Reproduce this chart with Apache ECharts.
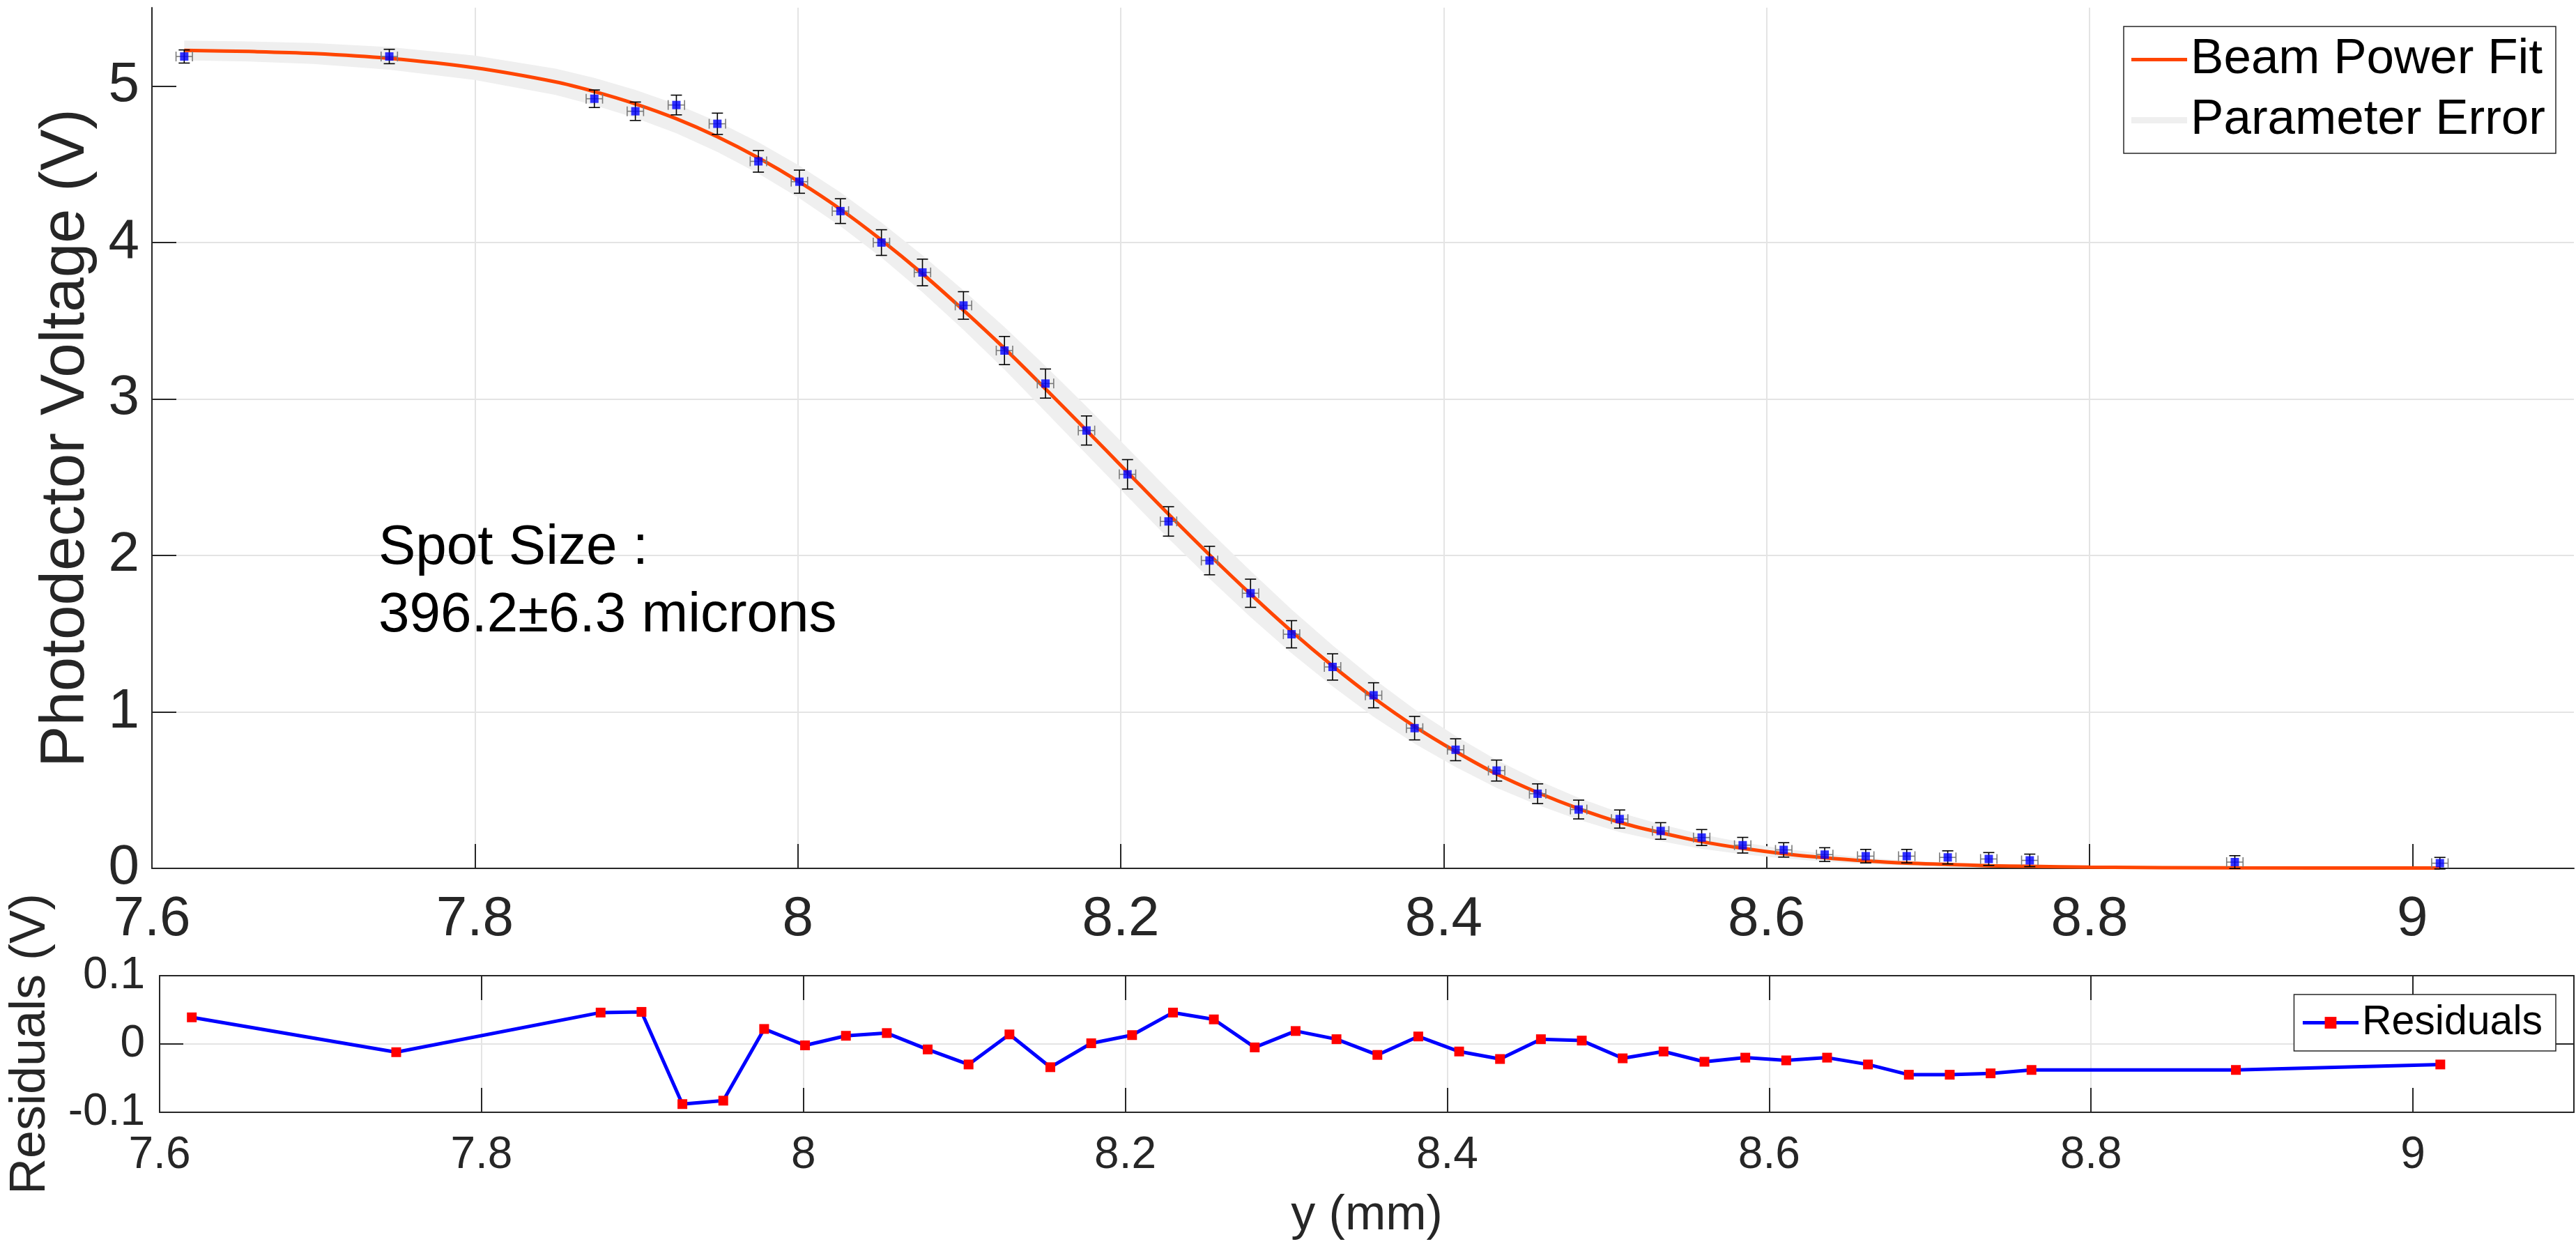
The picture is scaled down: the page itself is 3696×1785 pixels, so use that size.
<!DOCTYPE html>
<html><head><meta charset="utf-8">
<script src="https://cdn.jsdelivr.net/npm/echarts@6/dist/echarts.min.js"></script>
<style>html,body{margin:0;padding:0;background:#fff}#c{width:3696px;height:1785px}</style>
</head><body><div id="c"></div>
<script>
// ---------- data ----------
const posX = [7.62, 7.747, 7.874, 7.8994, 7.9248, 7.9502, 7.9756, 8.001, 8.0264, 8.0518,
  8.0772, 8.1026, 8.128, 8.1534, 8.1788, 8.2042, 8.2296, 8.255, 8.2804, 8.3058,
  8.3312, 8.3566, 8.382, 8.4074, 8.4328, 8.4582, 8.4836, 8.509, 8.5344, 8.5598,
  8.5852, 8.6106, 8.636, 8.6614, 8.6868, 8.7122, 8.7376, 8.763, 8.89, 9.017];
const voltage = [5.188, 5.188, 4.918, 4.838, 4.878, 4.758, 4.518, 4.388, 4.200, 3.999,
  3.808, 3.597, 3.309, 3.098, 2.798, 2.518, 2.217, 1.967, 1.758, 1.496,
  1.287, 1.106, 0.896, 0.758, 0.625, 0.477, 0.376, 0.315, 0.239, 0.197,
  0.148, 0.118, 0.088, 0.078, 0.078, 0.070, 0.060, 0.051, 0.040, 0.033];
const voltageErr = [0.042, 0.046, 0.056, 0.059, 0.063, 0.068, 0.069, 0.074, 0.079, 0.082,
  0.085, 0.088, 0.090, 0.093, 0.093, 0.094, 0.094, 0.091, 0.090, 0.087,
  0.084, 0.080, 0.075, 0.070, 0.067, 0.063, 0.060, 0.058, 0.053, 0.051,
  0.050, 0.046, 0.044, 0.043, 0.043, 0.042, 0.041, 0.040, 0.041, 0.037];
const positionErr = 0.00508;
const residuals = [0.039, -0.012, 0.046, 0.047, -0.088, -0.083, 0.022, -0.002, 0.012, 0.016,
  -0.008, -0.030, 0.014, -0.034, 0.001, 0.013, 0.046, 0.036, -0.005, 0.019,
  0.007, -0.016, 0.011, -0.011, -0.022, 0.007, 0.005, -0.021, -0.011, -0.026,
  -0.020, -0.024, -0.020, -0.030, -0.045, -0.045, -0.043, -0.038, -0.038, -0.030];
const fitX = [7.62, 7.66, 7.70, 7.747, 7.80, 7.85, 7.874, 7.8994, 7.9248, 7.9502,
  7.9756, 8.001, 8.0264, 8.0518, 8.0772, 8.1026, 8.128, 8.1534, 8.1788, 8.2042,
  8.2296, 8.255, 8.2804, 8.3058, 8.3312, 8.3566, 8.382, 8.4074, 8.4328, 8.4582,
  8.4836, 8.509, 8.5344, 8.5598, 8.5852, 8.6106, 8.636, 8.6614, 8.6868, 8.7122,
  8.7376, 8.763, 8.80, 8.89, 9.017];
const fitV = [5.227, 5.220, 5.207, 5.176, 5.116, 5.026, 4.964, 4.885, 4.790, 4.675,
  4.540, 4.386, 4.212, 4.015, 3.800, 3.567, 3.323, 3.064, 2.799, 2.531,
  2.263, 2.003, 1.753, 1.515, 1.294, 1.090, 0.907, 0.747, 0.603, 0.484,
  0.381, 0.294, 0.228, 0.171, 0.128, 0.094, 0.068, 0.048, 0.033, 0.025,
  0.017, 0.013, 0.008, 0.003, 0.002];
const fitBandHalf = [0.063, 0.064, 0.067, 0.072, 0.078, 0.084, 0.087, 0.090, 0.093, 0.097,
  0.100, 0.104, 0.108, 0.112, 0.118, 0.126, 0.136, 0.146, 0.152, 0.155,
  0.155, 0.152, 0.147, 0.140, 0.131, 0.121, 0.110, 0.099, 0.089, 0.079,
  0.070, 0.062, 0.054, 0.046, 0.038, 0.031, 0.025, 0.020, 0.016, 0.013,
  0.011, 0.009, 0.007, 0.003, 0.001];
const xTicks = [7.6, 7.8, 8, 8.2, 8.4, 8.6, 8.8, 9];
const yTicksMain = [0, 1, 2, 3, 4, 5];
const yTicksRes = [-0.1, 0, 0.1];

// ---------- chart ----------
const F = "'Liberation Sans', Arial, Helvetica, sans-serif";
const AX = '#262626';
const GRID = '#e4e4e4';
const chart = echarts.init(document.getElementById('c'), null, {renderer: 'canvas'});

const pointData = posX.map((x, i) => [x, voltage[i], voltageErr[i]]);
const fitData = fitX.map((x, i) => [x, fitV[i]]);
const resData = posX.map((x, i) => [x, residuals[i]]);

function baseX(grid, extra) {
  return Object.assign({
    type: 'value', gridIndex: grid, min: 7.6, max: 9.1, interval: 0.2,
    axisLine: {show: true, onZero: false, lineStyle: {color: AX, width: 2}},
    axisTick: {show: true, inside: true, length: 35, customValues: xTicks, lineStyle: {color: AX, width: 2}},
    splitLine: {show: true, showMinLine: false, showMaxLine: false, lineStyle: {color: GRID, width: 2}},
  }, extra);
}

const option = {
  animation: false,
  backgroundColor: '#fff',
  textStyle: {fontFamily: F},
  grid: [
    {left: 218, right: 3, top: 11, height: 1235},
    {left: 218, right: 3, top: 1400, height: 196}
  ],
  xAxis: [
    baseX(0, {axisLabel: {show: true, customValues: xTicks, fontSize: 80, color: AX, margin: 34, fontFamily: F}}),
    baseX(1, {axisLabel: {show: true, customValues: xTicks, fontSize: 64, color: AX, margin: 30, fontFamily: F},
      name: 'y (mm)', nameLocation: 'middle', nameGap: 114,
      nameTextStyle: {fontSize: 70, color: AX, fontFamily: F}}),
    baseX(1, {position: 'top', axisLabel: {show: false}, splitLine: {show: false}})
  ],
  yAxis: [
    {type: 'value', gridIndex: 0, min: 0, max: 5.5, interval: 1,
      axisLine: {show: true, onZero: false, lineStyle: {color: AX, width: 2}},
      axisTick: {show: true, inside: true, length: 35, customValues: yTicksMain, lineStyle: {color: AX, width: 2}},
      axisLabel: {show: true, customValues: yTicksMain, fontSize: 80, color: AX, margin: 18, fontFamily: F},
      splitLine: {show: true, showMinLine: false, showMaxLine: false, lineStyle: {color: GRID, width: 2}},
      name: 'Photodector Voltage (V)', nameLocation: 'middle', nameGap: 78,
      nameTextStyle: {fontSize: 89, color: AX, fontFamily: F}},
    {type: 'value', gridIndex: 1, min: -0.1, max: 0.1, interval: 0.1,
      axisLine: {show: true, onZero: false, lineStyle: {color: AX, width: 2}},
      axisTick: {show: true, inside: true, length: 34, customValues: yTicksRes, lineStyle: {color: AX, width: 2}},
      axisLabel: {show: true, customValues: yTicksRes, fontSize: 64, color: AX, margin: 21, fontFamily: F},
      splitLine: {show: true, showMinLine: false, showMaxLine: false, lineStyle: {color: GRID, width: 2}},
      name: 'Residuals (V)', nameLocation: 'middle', nameGap: 149,
      nameTextStyle: {fontSize: 72, color: AX, fontFamily: F}},
    {type: 'value', gridIndex: 1, position: 'right', min: -0.1, max: 0.1, interval: 0.1,
      axisLine: {show: true, onZero: false, lineStyle: {color: AX, width: 2}},
      axisTick: {show: true, inside: true, length: 34, customValues: yTicksRes, lineStyle: {color: AX, width: 2}},
      axisLabel: {show: false}, splitLine: {show: false}}
  ],
  legend: [
    {data: [{name: 'Beam Power Fit', icon: 'path://M0,0H80V5H0Z'},
            {name: 'Parameter Error', icon: 'path://M0,0H80V9H0Z'}],
      orient: 'vertical', right: 29, top: 38, itemWidth: 80, itemHeight: 20, itemGap: 16,
      padding: [12, 15, 12, 11], backgroundColor: '#fff', borderColor: AX, borderWidth: 1.5,
      textStyle: {fontSize: 71, color: '#000', fontFamily: F}, selectedMode: false},
    {data: ['Residuals'], orient: 'vertical', right: 29, top: 1427, itemWidth: 80, itemHeight: 21,
      padding: [11, 19, 11, 10], backgroundColor: '#fff', borderColor: AX, borderWidth: 1.5,
      lineStyle: {width: 5},
      textStyle: {fontSize: 59, color: '#000', fontFamily: F}, selectedMode: false}
  ],
  graphic: [
    {type: 'text', x: 543, y: 787, z: 100,
      style: {text: 'Spot Size :', fontSize: 80, fontFamily: F, fill: '#000', verticalAlign: 'middle', align: 'left'}},
    {type: 'text', x: 543, y: 884, z: 100,
      style: {text: '396.2\u00B16.3 microns', fontSize: 80, fontFamily: F, fill: '#000', verticalAlign: 'middle', align: 'left'}}
  ],
  series: [
    {name: 'Parameter Error', type: 'custom', xAxisIndex: 0, yAxisIndex: 0, z: 1, clip: true,
      itemStyle: {color: '#efefef'}, data: fitData, encode: {x: 0, y: 1},
      renderItem: function (params, api) {
        if (params.dataIndex !== 0) return null;
        const pts = [];
        for (let i = 0; i < fitX.length; i++) pts.push(api.coord([fitX[i], fitV[i] + fitBandHalf[i]]));
        for (let i = fitX.length - 1; i >= 0; i--) pts.push(api.coord([fitX[i], Math.max(0, fitV[i] - fitBandHalf[i])]));
        return {type: 'polygon', shape: {points: pts}, style: {fill: '#efefef'}, silent: true};
      }},
    {name: 'Beam Power Fit', type: 'line', xAxisIndex: 0, yAxisIndex: 0, z: 2,
      data: fitData, showSymbol: false, symbol: 'none', smooth: 0.35,
      lineStyle: {color: '#ff4500', width: 5}, itemStyle: {color: '#ff4500'}},
    {name: 'Error Bars', type: 'custom', xAxisIndex: 0, yAxisIndex: 0, z: 3,
      data: pointData, encode: {x: 0, y: 1},
      renderItem: function (params, api) {
        const x = api.value(0), y = api.value(1), e = api.value(2);
        const c = api.coord([x, y]);
        const t = api.coord([x, y + e]);
        const b = api.coord([x, y - e]);
        const l = api.coord([x - positionErr, y]);
        const r = api.coord([x + positionErr, y]);
        const blk = {stroke: '#000', lineWidth: 1.6};
        const gry = {stroke: '#7a7a7a', lineWidth: 1.6};
        return {type: 'group', children: [
          {type: 'line', shape: {x1: l[0], y1: c[1], x2: r[0], y2: c[1]}, style: gry},
          {type: 'line', shape: {x1: l[0], y1: c[1] - 7, x2: l[0], y2: c[1] + 7}, style: gry},
          {type: 'line', shape: {x1: r[0], y1: c[1] - 7, x2: r[0], y2: c[1] + 7}, style: gry},
          {type: 'line', shape: {x1: c[0], y1: t[1], x2: c[0], y2: b[1]}, style: blk},
          {type: 'line', shape: {x1: c[0] - 8, y1: t[1], x2: c[0] + 8, y2: t[1]}, style: blk},
          {type: 'line', shape: {x1: c[0] - 8, y1: b[1], x2: c[0] + 8, y2: b[1]}, style: blk}
        ]};
      }},
    {name: 'Data', type: 'scatter', xAxisIndex: 0, yAxisIndex: 0, z: 4,
      data: pointData.map(p => [p[0], p[1]]), symbol: 'rect', symbolSize: 12,
      itemStyle: {color: '#0000ff'}},
    {name: 'Residuals', type: 'line', xAxisIndex: 1, yAxisIndex: 1, z: 5,
      data: resData, symbol: 'rect', symbolSize: 14, showSymbol: true,
      lineStyle: {color: '#0000ff', width: 5}, itemStyle: {color: '#ff0000'}}
  ]
};
chart.setOption(option);
</script>
</body></html>
